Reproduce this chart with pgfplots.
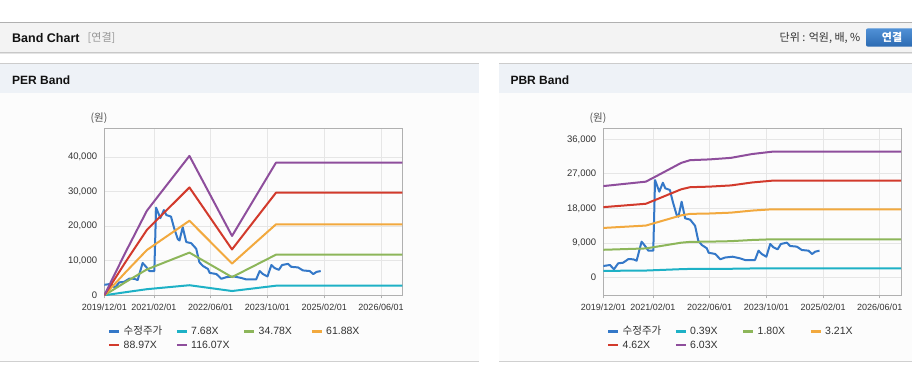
\documentclass[border=0pt]{standalone}
\usepackage{fontspec}
\setmainfont{Liberation Sans}
\newfontfamily\kr{Noto Sans CJK KR}
\usepackage{pgfplots}
\usepackage{pgfplotstable}
\pgfplotsset{compat=1.18}
\definecolor{cPrice}{HTML}{3478C8}
\definecolor{cCyan}{HTML}{1EB1C6}
\definecolor{cGreen}{HTML}{8DB65A}
\definecolor{cOrange}{HTML}{F2A93E}
\definecolor{cRed}{HTML}{D23A2C}
\definecolor{cPurple}{HTML}{8E4E9C}
\definecolor{framec}{HTML}{B0B0B0}
\definecolor{gridc}{HTML}{E6E6E6}
\definecolor{hdr}{HTML}{F3F3F3}
\definecolor{phdr}{HTML}{EEF2F7}
\definecolor{txt}{HTML}{333333}
\definecolor{body}{HTML}{FCFCFC}

\pgfplotstableread{
m v
0 3040
1.9 3300
3.0 2180
4.2 3740
5.6 3900
7.1 4860
8.5 4770
9.4 4420
10.8 9370
11.8 8240
12.7 7030
14.1 7030
14.6 25400
15.8 22370
16.8 24710
17.5 23250
18.8 22810
19.6 19770
20.7 16310
21.2 15870
22.1 19770
23.1 15450
24.5 15100
25.9 13500
26.8 9600
27.8 8500
29.2 7650
29.7 6500
31.6 6160
33.0 4790
34.4 5250
36.5 5460
38.6 5030
40.0 4600
42.8 4600
43.8 7030
44.7 6160
46.0 5460
47.1 8770
48.0 7900
49.2 7380
50.1 8770
51.8 9110
52.7 8250
54.6 8080
56.0 7210
57.9 7030
58.9 6160
59.8 6770
61.0 7030
}\price

\pgfplotsset{
 bandaxis/.style={
  scale only axis, anchor=south west,
  height=167pt,
  xmin=0, xmax=84,
  scaled y ticks=false,
  xtick={0,14,30,46,62,78},
  xticklabels={2019/12/01,2021/02/01,2022/06/01,2023/10/01,2025/02/01,2026/06/01},
  grid=major, major grid style={draw=gridc, line width=0.8pt},
  axis line style={draw=framec, line width=1pt},
  xtick style={draw=framec, line width=0.8pt},
  ytick style={draw=none},
  xtick pos=bottom, ytick pos=left,
  major tick length=3pt,
  xtick align=outside,
  tick label style={font=\fontsize{9}{10}\selectfont, text=txt, inner sep=0pt},
  yticklabel style={font=\fontsize{9.5}{10}\selectfont, xshift=-7pt},
  xticklabel style={yshift=-5pt},
  legend columns=4,
  legend cell align=left,
  legend style={draw=none, fill=none, font=\fontsize{10.5}{12}\selectfont, text=txt,
    at={(axis description cs:0.0124,-0.184)}, anchor=north west, inner sep=0pt,
    nodes={inner sep=0pt}, row sep=4.3pt,
    /tikz/every odd column/.append style={column sep=3pt}},
  legend image code/.code={\draw[##1, line width=2.5pt] (0pt,0pt) -- (10pt,0pt);},
  every axis plot/.append style={line width=2pt, mark=none, line join=round},
 }
}

\begin{document}
\begin{tikzpicture}[x=1pt,y=1pt]
\path[use as bounding box] (0,0) rectangle (912,364);
\fill[white] (0,0) rectangle (912,364);
% top header
\fill[hdr] (0,312) rectangle (912,341.5);
\draw[color={rgb,255:red,176;green,176;blue,176}, line width=1pt] (0,341.5) -- (912,341.5);
\draw[color={rgb,255:red,200;green,200;blue,200}, line width=1pt] (0,311.5) -- (912,311.5);
\draw[color={rgb,255:red,228;green,228;blue,228}, line width=1pt] (0,310.5) -- (912,310.5);
\node[anchor=west, font=\bfseries\fontsize{12.5}{14}\selectfont, text={rgb,255:red,17;green,17;blue,17}, inner sep=0pt] at (12,325.7) {Band Chart};
\node[anchor=west, font=\kr\fontsize{11}{13}\selectfont, text={rgb,255:red,150;green,150;blue,150}, inner sep=0pt] at (87.5,325.7) {[연결]};
\node[anchor=east, font=\kr\fontsize{11}{13}\selectfont, text=txt, inner sep=0pt] at (860.5,325.7) {단위 : 억원, 배, \%};
\shade[top color={rgb,255:red,80;green,145;blue,214}, bottom color={rgb,255:red,44;green,106;blue,178}, rounded corners=2pt] (866,317.3) rectangle (916,335.7);
\node[font=\kr\bfseries\fontsize{11}{13}\selectfont, text=white, inner sep=0pt] at (892,326.5) {연결};
% panels
\foreach \a/\b in {0/479,499/912}{
  \fill[body] (\a,2.5) rectangle (\b,271.3);
  \fill[phdr] (\a,271.3) rectangle (\b,299.5);
  \draw[color={rgb,255:red,204;green,204;blue,204}, line width=1pt] (\a,300) -- (\b,300);
  \draw[color={rgb,255:red,208;green,208;blue,208}, line width=1pt] (\a,2.3) -- (\b,2.3);
}
\node[anchor=west, font=\bfseries\fontsize{12}{14}\selectfont, text={rgb,255:red,17;green,17;blue,17}, inner sep=0pt] at (12,284) {PER Band};
\node[anchor=west, font=\bfseries\fontsize{12}{14}\selectfont, text={rgb,255:red,17;green,17;blue,17}, inner sep=0pt] at (510.3,284) {PBR Band};
\node[font=\kr\fontsize{10.5}{12}\selectfont, text={rgb,255:red,80;green,80;blue,80}, inner sep=0pt] at (99,245.7) {(원)};
\node[font=\kr\fontsize{10.5}{12}\selectfont, text={rgb,255:red,80;green,80;blue,80}, inner sep=0pt] at (598,245.7) {(원)};

% PER
\begin{axis}[bandaxis, at={(104.3pt,68.7pt)}, width=298pt,
  ymin=0, ymax=48400,
  ytick={0,10000,20000,30000,40000},
  yticklabels={0,{10,000},{20,000},{30,000},{40,000}}]
\addplot[cPrice] table[x=m,y=v] {\price};
\addlegendentry{\makebox[52pt][l]{\kr 수정주가}}
\addplot[cCyan] coordinates {(0,0)(6,900)(12,1770)(15,2060)(24,2920)(36,1240)(48.4,2780)(84,2780)};
\addlegendentry{\makebox[52pt][l]{7.68X}}
\addplot[cGreen] coordinates {(0,0)(6,3830)(12,7500)(15,8720)(24,12370)(36,5270)(48.4,11770)(84,11770)};
\addlegendentry{\makebox[52pt][l]{34.78X}}
\addplot[cOrange] coordinates {(0,0)(6,6690)(12,13110)(15,15250)(24,21610)(36,9200)(48.4,20570)(84,20570)};
\addlegendentry{\makebox[52pt][l]{61.88X}}
\addplot[cRed] coordinates {(0,0)(6,9670)(12,18950)(15,22040)(24,31250)(36,13300)(48.4,29740)(84,29740)};
\addlegendentry{\makebox[52pt][l]{88.97X}}
\addplot[cPurple] coordinates {(0,0)(6,12500)(12,24500)(15,28500)(24,40400)(36,17200)(48.4,38450)(84,38450)};
\addlegendentry{\makebox[52pt][l]{116.07X}}
\end{axis}

% PBR
\begin{axis}[bandaxis, at={(603.3pt,68.7pt)}, width=297.7pt,
  ymin=-4580, ymax=38860,
  ytick={0,9000,18000,27000,36000},
  yticklabels={0,{9,000},{18,000},{27,000},{36,000}}]
\addplot[cPrice] table[x=m,y=v] {\price};
\addlegendentry{\makebox[52pt][l]{\kr 수정주가}}
\addplot[cCyan] coordinates {(0,1770)(12,1860)(15,1970)(22,2220)(24.5,2280)(30,2290)(36,2320)(42,2400)(47.6,2440)(84,2440)};
\addlegendentry{\makebox[52pt][l]{0.39X}}
\addplot[cGreen] coordinates {(0,7260)(12,7610)(15,8060)(22,9110)(24.5,9320)(30,9380)(36,9500)(42,9810)(47.6,9990)(84,9990)};
\addlegendentry{\makebox[52pt][l]{1.80X}}
\addplot[cOrange] coordinates {(0,12940)(12,13560)(15,14350)(22,16220)(24.5,16600)(30,16700)(36,16920)(42,17460)(47.6,17790)(84,17790)};
\addlegendentry{\makebox[52pt][l]{3.21X}}
\addplot[cRed] coordinates {(0,18350)(12,19230)(15,20350)(22,23000)(24.5,23540)(30,23690)(36,24000)(42,24770)(47.6,25230)(84,25230)};
\addlegendentry{\makebox[52pt][l]{4.62X}}
\addplot[cPurple] coordinates {(0,23830)(12,24980)(15,26430)(22,29870)(24.5,30570)(30,30770)(36,31170)(42,32170)(47.6,32770)(84,32770)};
\addlegendentry{\makebox[52pt][l]{6.03X}}
\end{axis}
\end{tikzpicture}
\end{document}
